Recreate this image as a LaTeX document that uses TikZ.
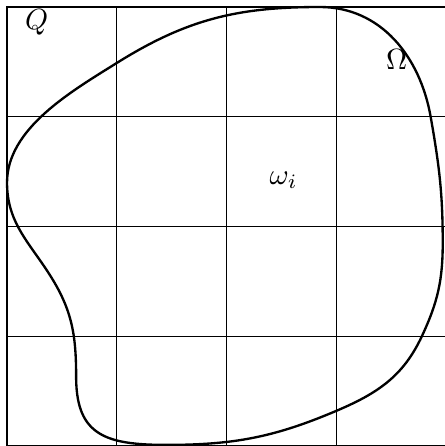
\documentclass[tikz,border=0pt]{standalone}
\usepackage{amsmath, amssymb}
\usetikzlibrary{positioning}

\begin{document}
\begin{tikzpicture}[scale=1.32,
    grid line/.style={line width=0.4pt},
    frame line/.style={line width=0.8pt},
    boundary/.style={line width=0.8pt}]
    \useasboundingbox (-0.064,0) rectangle (3.984,4.064);

    \draw[grid line] (0,0) grid (4,4);
    \draw[frame line] (0,0) rectangle (4,4);

    % domain boundary
    \draw[boundary] (0,2.40) to[out=90,in=212,looseness=0.85] (1.0,3.49)
        to[out=32,in=180] (2.85,4.0)
        to[out=0,in=100] (3.86,3.0)
        to[out=-80,in=90] (3.97,1.85)
        to[out=-90,in=65] (3.78,1.0)
        to[out=-115,in=23] (3.0,0.32)
        to[out=-157,in=0] (1.45,0.01)
        .. controls (0.9,0.01) and (0.64,0.1) .. (0.63,0.6)
        to[out=90,in=-59] (0.42,1.51)
        to[out=121,in=-90] cycle;

    \node (q) at (0.27,3.86) {$Q$};
    \node (omega) at (3.55,3.52) {$\Omega$};
    \node (omegai) at (2.52,2.42) {$\omega_i$};
\end{tikzpicture}
\end{document}
